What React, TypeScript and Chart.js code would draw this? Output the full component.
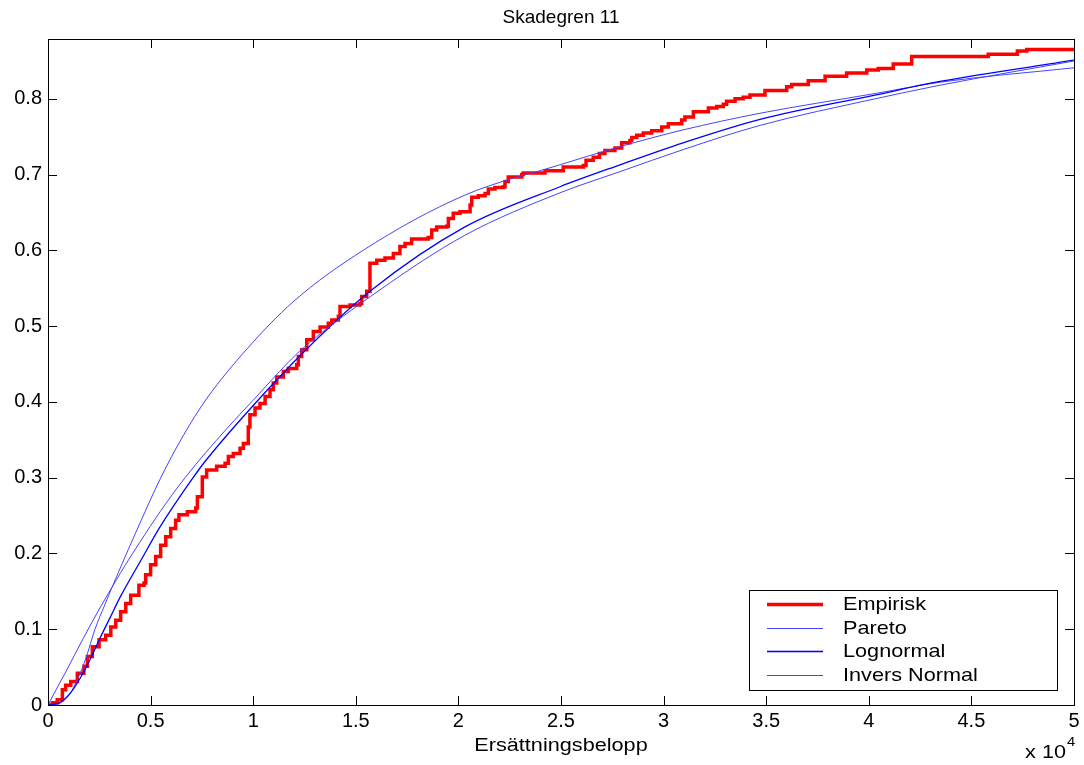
import React, { useEffect, useRef } from 'react';
import { Chart, registerables } from 'chart.js';

Chart.register(...registerables);

const chartTitle = 'Skadegren 11';
const xAxisLabel = 'Ersättningsbelopp';
const xMultiplier = 'x 10';
const xExponent = '4';

const xTickValues = [0, 5000, 10000, 15000, 20000, 25000, 30000, 35000, 40000, 45000, 50000];
const xTickLabels = ['0', '0.5', '1', '1.5', '2', '2.5', '3', '3.5', '4', '4.5', '5'];
const yTickValues = [0, 0.1, 0.2, 0.3, 0.4, 0.5, 0.6, 0.7, 0.8];
const yTickLabels = ['0', '0.1', '0.2', '0.3', '0.4', '0.5', '0.6', '0.7', '0.8'];

const seriesNames = ['Empirisk', 'Pareto', 'Lognormal', 'Invers Normal'];

// Empirical distribution (step function)
const empX = [0, 210, 450, 700, 860, 1110, 1430, 1750, 1920, 2160, 2490, 2810, 3060, 3300, 3540, 3790, 4030, 4430, 4680, 4760, 5000, 5250, 5490, 5740, 5980, 6220, 6380, 6790, 7200, 7280, 7520, 7730, 8220, 8630, 8790, 9030, 9360, 9520, 9760, 9840, 10090, 10330, 10580, 10820, 10980, 11150, 11470, 11710, 12120, 12200, 12360, 12610, 12930, 13260, 13660, 13830, 14150, 14230, 14720, 15200, 15290, 15530, 15690, 16020, 16420, 16830, 17150, 17400, 17720, 18530, 18700, 18940, 19430, 19510, 19750, 20080, 20570, 20650, 20970, 21300, 21460, 21780, 22190, 22270, 22430, 23090, 23160, 24220, 25110, 26090, 26220, 26570, 26870, 27140, 27630, 27960, 28360, 28450, 28690, 29010, 29420, 29910, 30230, 30880, 31040, 31450, 32180, 32590, 32910, 33070, 33480, 33880, 34210, 34940, 36000, 36240, 37050, 37870, 38920, 39900, 40460, 41190, 42090, 45820, 47240, 47700, 50000];
const empY = [0, 0.003, 0.007, 0.02, 0.026, 0.031, 0.042, 0.051, 0.064, 0.077, 0.086, 0.092, 0.103, 0.112, 0.123, 0.134, 0.145, 0.158, 0.161, 0.172, 0.185, 0.196, 0.211, 0.222, 0.233, 0.244, 0.251, 0.255, 0.26, 0.275, 0.301, 0.31, 0.315, 0.319, 0.328, 0.332, 0.339, 0.345, 0.367, 0.383, 0.392, 0.398, 0.407, 0.416, 0.425, 0.433, 0.44, 0.444, 0.449, 0.46, 0.469, 0.482, 0.493, 0.499, 0.504, 0.508, 0.513, 0.526, 0.528, 0.53, 0.539, 0.546, 0.583, 0.587, 0.59, 0.596, 0.605, 0.609, 0.615, 0.617, 0.627, 0.631, 0.632, 0.642, 0.649, 0.651, 0.66, 0.67, 0.672, 0.675, 0.681, 0.683, 0.684, 0.691, 0.697, 0.7, 0.702, 0.705, 0.71, 0.712, 0.719, 0.723, 0.728, 0.732, 0.735, 0.742, 0.745, 0.749, 0.752, 0.755, 0.758, 0.763, 0.767, 0.772, 0.776, 0.783, 0.788, 0.79, 0.793, 0.797, 0.8, 0.802, 0.805, 0.811, 0.816, 0.819, 0.824, 0.83, 0.834, 0.838, 0.84, 0.846, 0.856, 0.859, 0.863, 0.865, 0.865];

// Fitted distributions
const paretoX = [0, 490, 910, 1720, 2530, 3350, 3750, 4480, 5460, 6680, 8720, 9990, 11700, 12430, 16180, 20320, 24950, 27880, 30950, 34700, 40300, 43470, 50000];
const paretoY = [0, 0.025, 0.046, 0.088, 0.128, 0.166, 0.184, 0.215, 0.255, 0.3, 0.365, 0.402, 0.452, 0.471, 0.548, 0.62, 0.676, 0.704, 0.733, 0.765, 0.8, 0.818, 0.85];

const lognormX = [0, 340, 680, 1070, 1560, 2050, 2530, 3020, 3510, 4530, 5460, 7070, 7700, 9990, 12430, 15690, 20320, 24950, 27880, 30950, 34700, 40300, 43470, 50000];
const lognormY = [0, 0.001, 0.005, 0.015, 0.035, 0.06, 0.088, 0.115, 0.142, 0.191, 0.235, 0.3, 0.323, 0.395, 0.465, 0.546, 0.631, 0.684, 0.713, 0.742, 0.773, 0.805, 0.823, 0.851];

const invNormX = [0, 340, 680, 1070, 1460, 1850, 2290, 2780, 3350, 4480, 5460, 6580, 7750, 9700, 11940, 15350, 20320, 24950, 27880, 30950, 34700, 40300, 43470, 50000];
const invNormY = [0, 0, 0.004, 0.015, 0.035, 0.062, 0.1, 0.133, 0.17, 0.24, 0.298, 0.355, 0.405, 0.47, 0.532, 0.6, 0.673, 0.713, 0.737, 0.759, 0.781, 0.807, 0.822, 0.841];

const FONT = '"Liberation Sans", Arial, Helvetica, sans-serif';
const TICK_SIZE = 20;
const TEXT_SIZE = 19;
const TEXT_STRETCH = 1.14;

const toPoints = (xs: number[], ys: number[]) => xs.map((x, i) => ({ x, y: ys[i] }));

function drawText(ctx: CanvasRenderingContext2D, text: string, x: number, y: number, align: CanvasTextAlign, size: number, stretch: number) {
  ctx.save();
  ctx.translate(x, y);
  ctx.scale(stretch, 1);
  ctx.font = `${size}px ${FONT}`;
  ctx.textAlign = align;
  ctx.textBaseline = 'middle';
  ctx.fillStyle = '#000';
  ctx.fillText(text, 0, 0);
  ctx.restore();
}

const decorPlugin = {
  id: 'matlabDecor',
  afterDraw(chart: any) {
    const { ctx, chartArea } = chart;
    const { left, right, top, bottom } = chartArea;
    const xs = chart.scales.x;
    const ys = chart.scales.y;
    ctx.save();
    ctx.strokeStyle = '#000';
    ctx.lineWidth = 1;
    // frame
    ctx.strokeRect(Math.round(left) + 0.5, Math.round(top) + 0.5, Math.round(right - left), Math.round(bottom - top));
    // inward ticks on all four sides
    const tl = 9;
    ctx.beginPath();
    xTickValues.forEach((v) => {
      const px = Math.round(xs.getPixelForValue(v)) + 0.5;
      ctx.moveTo(px, bottom);
      ctx.lineTo(px, bottom - tl);
      ctx.moveTo(px, top);
      ctx.lineTo(px, top + tl);
    });
    yTickValues.forEach((v) => {
      const py = Math.round(ys.getPixelForValue(v)) + 0.5;
      ctx.moveTo(left, py);
      ctx.lineTo(left + tl, py);
      ctx.moveTo(right, py);
      ctx.lineTo(right - tl, py);
    });
    ctx.stroke();

    const cx = (left + right) / 2;
    drawText(ctx, chartTitle, cx, 18, 'center', TEXT_SIZE, 1.0);
    drawText(ctx, xAxisLabel, cx, 746, 'center', TEXT_SIZE, TEXT_STRETCH);
    drawText(ctx, xMultiplier, 1066, 753, 'right', TEXT_SIZE, TEXT_STRETCH);
    drawText(ctx, xExponent, 1067, 742, 'left', 13, TEXT_STRETCH);

    // legend
    const bx = 749, by = 590, bw = 308, bh = 100;
    ctx.fillStyle = '#fff';
    ctx.fillRect(bx, by, bw, bh);
    ctx.strokeStyle = '#000';
    ctx.lineWidth = 1;
    ctx.strokeRect(bx + 0.5, by + 0.5, bw, bh);
    const rowY = [604, 627.5, 651, 674.5];
    chart.data.datasets.forEach((ds: any, i: number) => {
      const y = Math.round(rowY[i]) + 0.5;
      ctx.strokeStyle = ds.borderColor;
      ctx.lineWidth = ds.borderWidth;
      ctx.beginPath();
      ctx.moveTo(767, y);
      ctx.lineTo(823, y);
      ctx.stroke();
      drawText(ctx, ds.label, 843, rowY[i] + 1, 'left', TEXT_SIZE, TEXT_STRETCH);
    });
    ctx.restore();
  },
};

export default function App() {
  const canvasRef = useRef<HTMLCanvasElement | null>(null);

  useEffect(() => {
    if (!canvasRef.current) return;
    const chart = new Chart(canvasRef.current, {
      type: 'line',
      data: {
        datasets: [
          {
            label: seriesNames[0],
            data: toPoints(empX, empY),
            borderColor: '#ff0000',
            borderWidth: 3.5,
            stepped: 'before',
            pointRadius: 0,
            fill: false,
            order: 1,
          },
          {
            label: seriesNames[1],
            data: toPoints(paretoX, paretoY),
            borderColor: '#4444ff',
            borderWidth: 1,
            cubicInterpolationMode: 'monotone',
            pointRadius: 0,
            fill: false,
            order: 0,
          },
          {
            label: seriesNames[2],
            data: toPoints(lognormX, lognormY),
            borderColor: '#0000ff',
            borderWidth: 1.3,
            cubicInterpolationMode: 'monotone',
            pointRadius: 0,
            fill: false,
            order: 0,
          },
          {
            label: seriesNames[3],
            data: toPoints(invNormX, invNormY),
            borderColor: '#4444ff',
            borderWidth: 1,
            cubicInterpolationMode: 'monotone',
            pointRadius: 0,
            fill: false,
            order: 0,
          },
        ],
      },
      options: {
        animation: false,
        responsive: false,
        devicePixelRatio: 1,
        layout: { padding: { top: 39, right: 10, left: 0, bottom: 0 } },
        plugins: {
          legend: { display: false },
          title: { display: false },
          tooltip: { enabled: false },
        },
        scales: {
          x: {
            type: 'linear',
            min: 0,
            max: 50000,
            afterBuildTicks: (s: any) => {
              s.ticks = xTickValues.map((v) => ({ value: v }));
            },
            afterFit: (s: any) => {
              s.height = 60;
            },
            ticks: {
              autoSkip: false,
              maxRotation: 0,
              padding: 4,
              color: '#000',
              font: { family: FONT, size: TICK_SIZE },
              callback: (v: any) => xTickLabels[xTickValues.indexOf(Number(v))],
            },
            grid: { display: false, drawTicks: false },
            border: { display: false },
          },
          y: {
            type: 'linear',
            min: 0,
            max: 0.879,
            afterBuildTicks: (s: any) => {
              s.ticks = yTickValues.map((v) => ({ value: v }));
            },
            afterFit: (s: any) => {
              s.width = 48;
            },
            ticks: {
              autoSkip: false,
              padding: 6,
              color: '#000',
              font: { family: FONT, size: TICK_SIZE },
              callback: (v: any) => {
                const idx = yTickValues.findIndex((t) => Math.abs(t - Number(v)) < 1e-9);
                return idx >= 0 ? yTickLabels[idx] : '';
              },
            },
            grid: { display: false, drawTicks: false },
            border: { display: false },
          },
        },
      },
      plugins: [decorPlugin],
    } as any);
    return () => chart.destroy();
  }, []);

  return (
    <div style={{ position: 'fixed', left: 0, top: 0, width: 1084, height: 765, background: '#fff' }}>
      <canvas ref={canvasRef} width={1084} height={765} style={{ display: 'block', width: 1084, height: 765 }} />
    </div>
  );
}
